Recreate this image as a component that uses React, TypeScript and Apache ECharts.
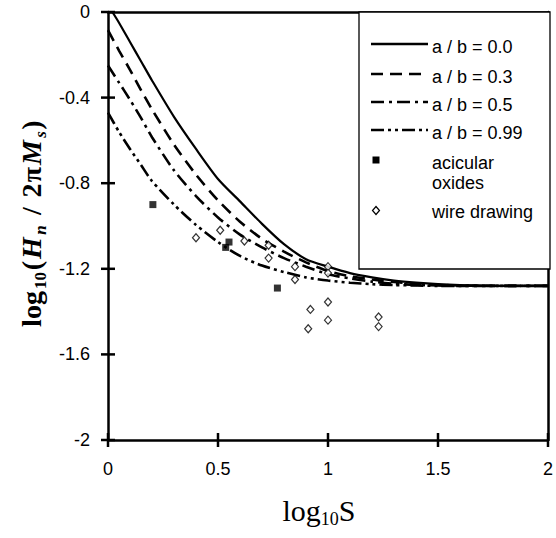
import React, { useEffect, useRef } from "react";
import * as echarts from "echarts";

// ---- data ----
const CURVE_X = [0, 0.05, 0.1, 0.15, 0.2, 0.3, 0.4, 0.5, 0.6, 0.7, 0.8, 0.9, 1.0, 1.1, 1.2, 1.3, 1.4, 1.5, 1.6, 1.8, 2.0];
const SOLID_X = [0.02, 0.05, 0.1, 0.15, 0.2, 0.3, 0.4, 0.5, 0.6, 0.7, 0.8, 0.9, 1.0, 1.1, 1.2, 1.3, 1.4, 1.5, 1.6, 1.8, 2.0];
const Y_AB_00 = [0, -0.05, -0.14, -0.23, -0.32, -0.49, -0.64, -0.78, -0.885, -0.99, -1.085, -1.155, -1.19, -1.22, -1.24, -1.255, -1.265, -1.272, -1.276, -1.28, -1.28];
const Y_AB_03 = [-0.085, -0.18, -0.27, -0.365, -0.455, -0.62, -0.76, -0.88, -0.98, -1.06, -1.12, -1.17, -1.21, -1.235, -1.25, -1.262, -1.27, -1.275, -1.278, -1.28, -1.28];
const Y_AB_05 = [-0.25, -0.33, -0.41, -0.495, -0.585, -0.74, -0.86, -0.96, -1.04, -1.1, -1.15, -1.19, -1.225, -1.245, -1.26, -1.27, -1.275, -1.278, -1.28, -1.28, -1.28];
const Y_AB_099 = [-0.47, -0.56, -0.64, -0.715, -0.79, -0.9, -0.995, -1.075, -1.14, -1.185, -1.215, -1.24, -1.255, -1.265, -1.272, -1.276, -1.278, -1.28, -1.28, -1.28, -1.28];

const ACICULAR_X = [0.204, 0.55, 0.535, 0.77];
const ACICULAR_Y = [-0.9, -1.075, -1.1, -1.29];

const WIRE_X = [0.4, 0.51, 0.62, 0.73, 0.73, 0.85, 0.85, 1.0, 1.0, 0.92, 0.91, 1.0, 1.0, 1.23, 1.23];
const WIRE_Y = [-1.055, -1.02, -1.07, -1.09, -1.15, -1.19, -1.25, -1.19, -1.22, -1.39, -1.48, -1.355, -1.44, -1.425, -1.47];

const X_TICKS = [0, 0.5, 1, 1.5, 2];
const Y_TICKS = [-2, -1.6, -1.2, -0.8, -0.4, 0];

const CURVE_LABELS = ["a / b = 0.0", "a / b = 0.3", "a / b = 0.5", "a / b = 0.99"];
const ACICULAR_LABEL = "acicular\noxides";
const WIRE_LABEL = "wire drawing";

const SANS = '"Liberation Sans", Arial, Helvetica, sans-serif';
const SERIF = '"Liberation Serif", "Times New Roman", serif';

const DASHES: (number[] | "solid")[] = ["solid", [12, 7], [13, 5, 3, 5], [13, 4, 3, 4, 3, 4]];

function zip(xs: number[], ys: number[]) {
  return xs.map((x, i) => [x, ys[i]]);
}

export default function App() {
  const ref = useRef<HTMLDivElement>(null);
  useEffect(() => {
    if (!ref.current) return;
    const chart = echarts.init(ref.current, undefined, { renderer: "svg" });

    const curves = [
      zip(SOLID_X, Y_AB_00),
      zip(CURVE_X, Y_AB_03),
      zip(CURVE_X, Y_AB_05),
      zip(CURVE_X, Y_AB_099),
    ];

    const lineSeries = curves.map((data, i) => ({
      type: "line",
      name: CURVE_LABELS[i],
      data,
      xAxisIndex: 0,
      yAxisIndex: 0,
      symbol: "none",
      smooth: 0.25,
      clip: true,
      lineStyle: { color: "#000", width: i === 0 ? 2.2 : 2.6, type: DASHES[i] as any },
      z: 2,
    }));

    // legend
    const lgLeft = 359;
    const rowsY = [47, 77, 105, 133];
    const legendEls: any[] = [
      {
        type: "rect",
        shape: { x: lgLeft, y: 12, width: 550 - lgLeft, height: 257 },
        style: { fill: "#fff", stroke: "#000", lineWidth: 1.3 },
        z: 50,
      },
    ];
    rowsY.forEach((ry, i) => {
      legendEls.push({
        type: "line",
        shape: { x1: 371, y1: ry - 3, x2: 428, y2: ry - 3 },
        style: {
          stroke: "#000",
          lineWidth: 2.6,
          lineDash: DASHES[i] === "solid" ? null : (DASHES[i] as number[]),
        },
        z: 51,
      });
      legendEls.push({
        type: "text",
        x: 432,
        y: ry,
        style: { text: CURVE_LABELS[i], fontFamily: SANS, fontSize: 18, fill: "#000", verticalAlign: "middle", align: "left" },
        z: 51,
      });
    });
    legendEls.push({
      type: "rect",
      shape: { x: 372.5, y: 156.5, width: 7, height: 7 },
      style: { fill: "#000" },
      z: 51,
    });
    legendEls.push({
      type: "text",
      x: 432,
      y: 173,
      style: { text: ACICULAR_LABEL, fontFamily: SANS, fontSize: 18, lineHeight: 20, fill: "#000", verticalAlign: "middle", align: "left" },
      z: 51,
    });
    legendEls.push({
      type: "polygon",
      shape: { points: [[376, 206.5], [379.5, 210.5], [376, 214.5], [372.5, 210.5]] },
      style: { fill: "#fff", stroke: "#000", lineWidth: 1.2 },
      z: 51,
    });
    legendEls.push({
      type: "text",
      x: 432,
      y: 212,
      style: { text: WIRE_LABEL, fontFamily: SANS, fontSize: 18, fill: "#000", verticalAlign: "middle", align: "left" },
      z: 51,
    });

    const big = { fontFamily: SERIF, fontWeight: "bold", fontSize: 28, lineHeight: 28, verticalAlign: "top" };
    const sml = { fontFamily: SERIF, fontWeight: "bold", fontSize: 17, lineHeight: 46, verticalAlign: "middle" };
    const yTitle = {
      type: "text",
      x: 40,
      y: 224,
      rotation: Math.PI / 2,
      style: {
        text: "{m|log}{s|10}{p|(}{i|H}{is|n}{sl|/}{d|2}{pi|π}{im|M}{iss|s}{q|)}",
        align: "center",
        verticalAlign: "middle",
        fill: "#000",
        rich: {
          m: { ...big, width: 38 },
          s: { ...sml, width: 19 },
          p: { ...big, width: 11 },
          i: { ...big, fontStyle: "italic", width: 24 },
          is: { ...sml, fontStyle: "italic", width: 12 },
          sl: { ...big, width: 26, align: "center" },
          d: { ...big, width: 15 },
          pi: { ...big, width: 17 },
          im: { ...big, fontStyle: "italic", width: 27 },
          iss: { ...sml, fontStyle: "italic", width: 9 },
          q: { ...big, width: 10 },
        },
      },
      z: 60,
    };

    const xTitle = {
      type: "text",
      x: 319,
      y: 519,
      style: {
        text: "{m|log}{s|10}{m|S}",
        align: "center",
        verticalAlign: "middle",
        fill: "#000",
        rich: {
          m: { fontFamily: SERIF, fontSize: 30, lineHeight: 30, verticalAlign: "top" },
          s: { fontFamily: SERIF, fontSize: 18, lineHeight: 48, verticalAlign: "middle" },
        },
      },
      z: 60,
    };

    const fmt = (v: number) => String(Math.round(v * 10) / 10);
    const frameAxis = {
      axisLine: { show: true, onZero: false, lineStyle: { color: "#000", width: 2.5 } },
      axisTick: { show: false },
      axisLabel: { show: false },
      splitLine: { show: false },
    };

    chart.setOption({
      animation: false,
      grid: { left: 108, right: 6, top: 12, bottom: 98 },
      xAxis: [
        {
          type: "value",
          min: 0,
          max: 2,
          interval: 0.5,
          position: "bottom",
          axisLine: { show: true, onZero: false, lineStyle: { color: "#000", width: 2.5 } },
          axisTick: { show: false },
          axisLabel: { margin: 20, fontSize: 18, fontFamily: SANS, color: "#000", formatter: fmt, showMinLabel: true, showMaxLabel: true },
          splitLine: { show: false },
        },
        { type: "value", min: 0, max: 2, interval: 0.5, position: "top", ...frameAxis },
      ],
      yAxis: [
        {
          type: "value",
          min: -2,
          max: 0,
          interval: 0.4,
          position: "left",
          axisLine: { show: true, onZero: false, lineStyle: { color: "#000", width: 2.5 } },
          axisTick: { show: false },
          axisLabel: { margin: 18, fontSize: 18, fontFamily: SANS, color: "#000", formatter: fmt, showMinLabel: true, showMaxLabel: true },
          splitLine: { show: false },
        },
        { type: "value", min: -2, max: 0, interval: 0.4, position: "right", ...frameAxis },
      ],
      series: [
        ...lineSeries,
        {
          type: "scatter",
          name: "acicular oxides",
          xAxisIndex: 0,
          yAxisIndex: 0,
          data: zip(ACICULAR_X, ACICULAR_Y),
          symbol: "rect",
          symbolSize: 7,
          itemStyle: { color: "#000" },
          z: 4,
        },
        {
          type: "scatter",
          name: "wire drawing",
          xAxisIndex: 0,
          yAxisIndex: 0,
          data: zip(WIRE_X, WIRE_Y),
          symbol: "diamond",
          symbolSize: [7, 8],
          itemStyle: { color: "#fff", borderColor: "#000", borderWidth: 1.2 },
          z: 5,
        },
      ],
    });

    // ticks crossing the axes, positioned through the axes' own scales
    const TL = 7;
    const tickEls: any[] = [];
    const xAxisY = chart.convertToPixel({ yAxisIndex: 0 }, Y_TICKS[0]) as number;
    const yAxisX = chart.convertToPixel({ xAxisIndex: 0 }, X_TICKS[0]) as number;
    X_TICKS.forEach((v) => {
      const px = chart.convertToPixel({ xAxisIndex: 0 }, v) as number;
      tickEls.push({
        type: "rect",
        shape: { x: px - 1.25, y: xAxisY - TL, width: 2.5, height: 2 * TL },
        style: { fill: "#000" },
        z: 40,
      });
    });
    Y_TICKS.forEach((v) => {
      const py = chart.convertToPixel({ yAxisIndex: 0 }, v) as number;
      tickEls.push({
        type: "rect",
        shape: { x: yAxisX - TL, y: py - 1.25, width: 2 * TL, height: 2.5 },
        style: { fill: "#000" },
        z: 40,
      });
    });

    chart.setOption({ graphic: [...tickEls, ...legendEls, yTitle, xTitle] });

    return () => chart.dispose();
  }, []);

  return (
    <div
      ref={ref}
      style={{ position: "fixed", left: 0, top: 0, width: 556, height: 538, background: "#fff" }}
    />
  );
}
